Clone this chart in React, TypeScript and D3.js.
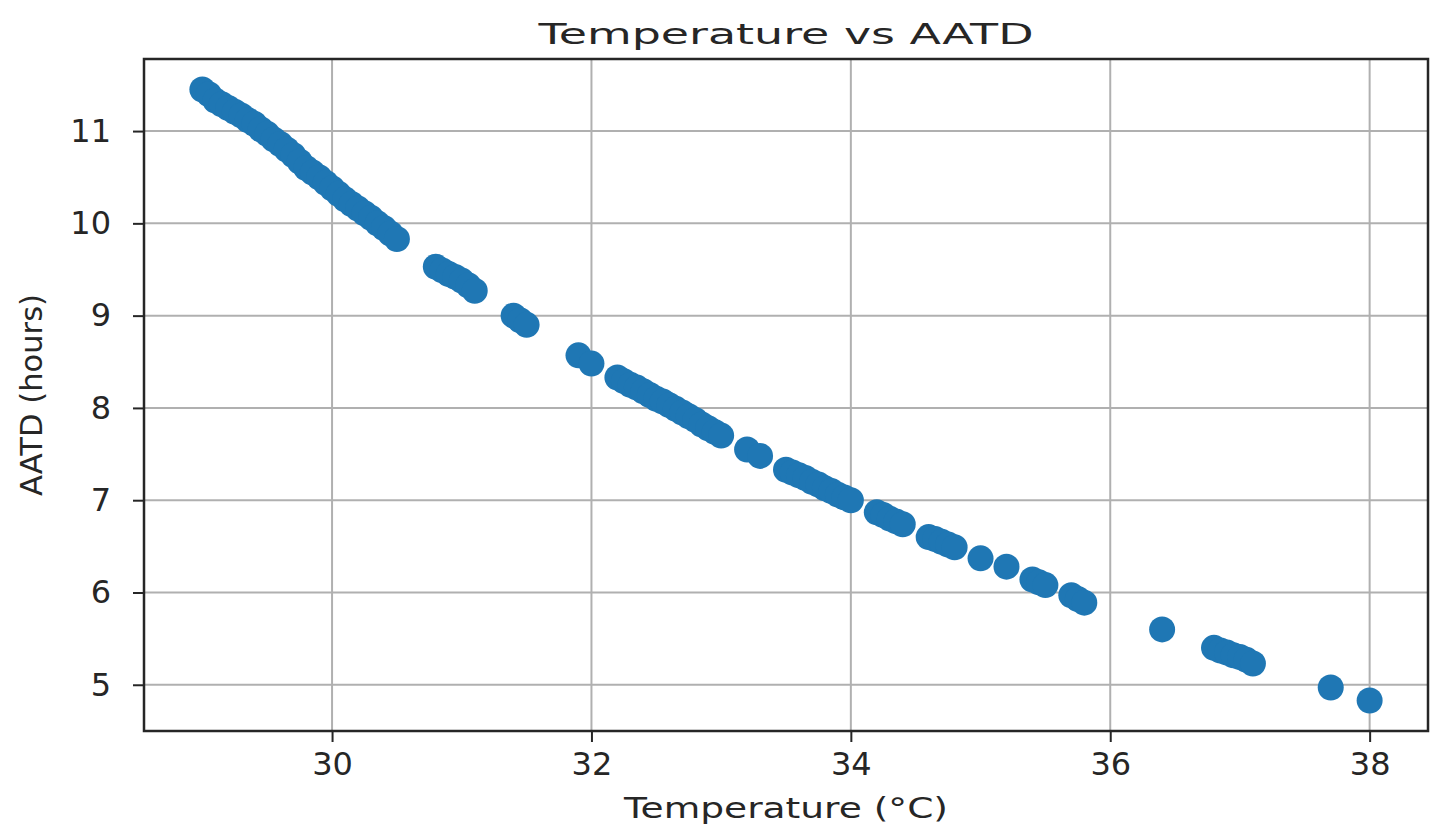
import React, { useEffect, useRef } from 'react';
import * as d3 from 'd3';

// (temperature in °C, AATD in hours)
const temperature = [
  29.0, 29.05, 29.1, 29.15, 29.2, 29.25, 29.3, 29.35, 29.4, 29.45, 29.5, 29.55, 29.6, 29.65,
  29.7, 29.75, 29.8, 29.85, 29.9, 29.95, 30.0, 30.05, 30.1, 30.15, 30.2, 30.25, 30.3, 30.35,
  30.4, 30.45, 30.5,
  30.8, 30.85, 30.9, 30.95, 31.0, 31.05, 31.1,
  31.4, 31.45, 31.5,
  31.9, 32.0, 32.2, 32.25, 32.3, 32.35, 32.4, 32.45, 32.5, 32.55, 32.6, 32.65, 32.7, 32.75,
  32.8, 32.85, 32.9, 32.95, 33.0,
  33.2, 33.3, 33.5, 33.55, 33.6, 33.65, 33.7, 33.75, 33.8, 33.85, 33.9, 33.95, 34.0,
  34.2, 34.25, 34.3, 34.35, 34.4, 34.6, 34.65, 34.7, 34.75, 34.8,
  35.0, 35.2, 35.4, 35.45, 35.5, 35.7, 35.75, 35.8,
  36.4, 36.8, 36.85, 36.9, 36.95, 37.0, 37.05, 37.1,
  37.7, 38.0,
];
const aatd = [
  11.45, 11.4, 11.33, 11.29, 11.25, 11.21, 11.17, 11.12, 11.08, 11.02, 10.97, 10.91, 10.86, 10.8,
  10.74, 10.67, 10.6, 10.55, 10.5, 10.44, 10.38, 10.32, 10.26, 10.21, 10.16, 10.11, 10.06, 10.0,
  9.95, 9.89, 9.83,
  9.53, 9.49, 9.45, 9.42, 9.38, 9.33, 9.27,
  9.0, 8.95, 8.9,
  8.57, 8.48, 8.33, 8.29, 8.25, 8.22, 8.18, 8.14, 8.1, 8.07, 8.03, 7.99, 7.95, 7.91,
  7.87, 7.82, 7.78, 7.74, 7.7,
  7.55, 7.48, 7.33, 7.3, 7.27, 7.24, 7.2, 7.17, 7.13, 7.1, 7.06, 7.03, 7.0,
  6.87, 6.84, 6.8, 6.77, 6.74, 6.6, 6.58, 6.55, 6.52, 6.49,
  6.37, 6.28, 6.14, 6.11, 6.08, 5.97, 5.93, 5.89,
  5.6, 5.4, 5.37, 5.35, 5.32, 5.3, 5.27, 5.23,
  4.97, 4.83,
];
const xTicks = [30, 32, 34, 36, 38];
const yTicks = [5, 6, 7, 8, 9, 10, 11];

const App = () => {
  const ref = useRef<SVGSVGElement>(null);

  useEffect(() => {
    document.body.style.margin = '0';
    const width = 1443, height = 834;
    const margin = { top: 59, right: 15, bottom: 103, left: 144 };
    const font = 'DejaVu Sans, sans-serif';
    const ink = '#262626';

    const svg = d3.select(ref.current);
    svg.selectAll('*').remove();

    // matplotlib style 5% padding around the data
    const [x0, x1] = d3.extent(temperature) as [number, number];
    const [y0, y1] = d3.extent(aatd) as [number, number];
    const px = (x1 - x0) * 0.05, py = (y1 - y0) * 0.05;
    const x = d3.scaleLinear().domain([x0 - px, x1 + px]).range([margin.left, width - margin.right]);
    const y = d3.scaleLinear().domain([y0 - py, y1 + py]).range([height - margin.bottom, margin.top]);

    // grid
    const grid = svg.append('g').attr('stroke', '#b0b0b0').attr('stroke-width', 2);
    grid.selectAll('.gx').data(xTicks).join('line')
      .attr('x1', d => x(d)).attr('x2', d => x(d))
      .attr('y1', margin.top).attr('y2', height - margin.bottom);
    grid.selectAll('.gy').data(yTicks).join('line')
      .attr('y1', d => y(d)).attr('y2', d => y(d))
      .attr('x1', margin.left).attr('x2', width - margin.right);

    // points
    svg.append('g').attr('fill', '#1f77b4')
      .selectAll('circle')
      .data(d3.range(temperature.length))
      .join('circle')
      .attr('cx', i => x(temperature[i]))
      .attr('cy', i => y(aatd[i]))
      .attr('r', 13);

    // axes
    const xAxis = svg.append('g')
      .attr('transform', `translate(0,${height - margin.bottom})`)
      .call(d3.axisBottom(x).tickValues(xTicks).tickSize(11).tickPadding(10).tickSizeOuter(0));
    const yAxis = svg.append('g')
      .attr('transform', `translate(${margin.left},0)`)
      .call(d3.axisLeft(y).tickValues(yTicks).tickSize(11).tickPadding(22).tickSizeOuter(0));
    [xAxis, yAxis].forEach(g => {
      g.select('.domain').remove();
      g.selectAll('line').attr('stroke', ink).attr('stroke-width', 2);
      g.selectAll('text').attr('fill', ink).attr('font-family', font).attr('font-size', 32);
    });

    // frame
    svg.append('rect')
      .attr('x', margin.left).attr('y', margin.top)
      .attr('width', width - margin.left - margin.right)
      .attr('height', height - margin.top - margin.bottom)
      .attr('fill', 'none').attr('stroke', ink).attr('stroke-width', 2.5);

    const cx = (margin.left + width - margin.right) / 2;
    // title
    svg.append('text')
      .attr('x', cx).attr('y', 44)
      .attr('text-anchor', 'middle')
      .attr('font-family', font).attr('font-size', 29).attr('fill', ink)
      .attr('textLength', 495).attr('lengthAdjust', 'spacingAndGlyphs')
      .text('Temperature vs AATD');
    // x label
    svg.append('text')
      .attr('x', cx).attr('y', 818)
      .attr('text-anchor', 'middle')
      .attr('font-family', font).attr('font-size', 29).attr('fill', ink)
      .attr('textLength', 324).attr('lengthAdjust', 'spacingAndGlyphs')
      .text('Temperature (°C)');
    // y label
    svg.append('text')
      .attr('transform', `translate(42,${(margin.top + height - margin.bottom) / 2}) rotate(-90)`)
      .attr('text-anchor', 'middle')
      .attr('font-family', font).attr('font-size', 30).attr('fill', ink)
      .attr('textLength', 202).attr('lengthAdjust', 'spacingAndGlyphs')
      .text('AATD (hours)');
  }, []);

  return <svg ref={ref} width={1443} height={834} style={{ display: 'block', background: '#fff' }} />;
};

export default App;
